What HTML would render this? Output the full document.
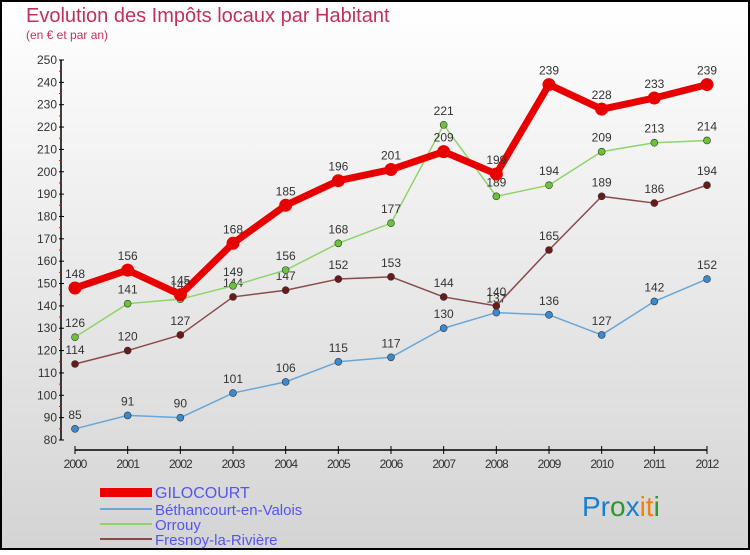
<!DOCTYPE html>
<html><head><meta charset="utf-8"><style>
body{margin:0;}
#c{width:750px;height:550px;position:relative;font-family:"Liberation Sans",sans-serif;}
</style></head><body>
<div id="c">
<svg id="s" width="750" height="550" xmlns="http://www.w3.org/2000/svg">
<defs><linearGradient id="bg" x1="0" y1="0" x2="0" y2="1"><stop offset="0" stop-color="#ffffff"/><stop offset="1" stop-color="#d4d4d4"/></linearGradient></defs>
<rect x="1" y="1" width="748" height="548" fill="url(#bg)" stroke="#000" stroke-width="2"/>
<text x="26" y="22" font-size="20" fill="#c0305a">Evolution des Impôts locaux par Habitant</text>
<text x="26" y="39" font-size="12" fill="#c0305a">(en € et par an)</text>
<g id="axes"></g><g id="plot"></g>
<g>
<rect x="100" y="488" width="52" height="9" fill="#e00"/>
<text x="155" y="498" font-size="16" fill="#5555ee">GILOCOURT</text>
<line x1="100" y1="509" x2="152" y2="509" stroke="#6aa6d6" stroke-width="2"/>
<text x="155" y="515" font-size="15" fill="#5555ee">Béthancourt-en-Valois</text>
<line x1="100" y1="524" x2="152" y2="524" stroke="#8fd46a" stroke-width="2"/>
<text x="155" y="530" font-size="15" fill="#5555ee">Orrouy</text>
<line x1="100" y1="539" x2="152" y2="539" stroke="#8a4a4a" stroke-width="2"/>
<text x="155" y="545" font-size="15" fill="#5555ee">Fresnoy-la-Rivière</text>
</g>
<text x="582" y="516" font-size="28"><tspan fill="#1a7fd0">Pr</tspan><tspan fill="#2a9a2a">o</tspan><tspan fill="#1a7fd0">x</tspan><tspan fill="#f08010">it</tspan><tspan fill="#2a9a2a">i</tspan></text>
</svg></div>
<script>
const years=[2000,2001,2002,2003,2004,2005,2006,2007,2008,2009,2010,2011,2012];
const gilocourt=[148,156,145,168,185,196,201,209,199,239,228,233,239];
const bethancourt=[85,91,90,101,106,115,117,130,137,136,127,142,152];
const orrouy=[126,141,143,149,156,168,177,221,189,194,209,213,214];
const fresnoy=[114,120,127,144,147,152,153,144,140,165,189,186,194];
const yTicks=[80,90,100,110,120,130,140,150,160,170,180,190,200,210,220,230,240,250];
const NS="http://www.w3.org/2000/svg";
const X=i=>75+i*(707-75)/12;
const Y=v=>440-(v-80)*(380/170);
function mk(t,a,p){const e=document.createElementNS(NS,t);for(const k in a)e.setAttribute(k,a[k]);p.appendChild(e);return e;}
const ax=document.getElementById('axes'),pl=document.getElementById('plot');
let l=mk('line',{x1:61,y1:Y(250),x2:61,y2:440,stroke:'#000','stroke-width':1.5},ax);


l=mk('line',{x1:75,y1:450,x2:707,y2:450,stroke:'#000','stroke-width':1.5},ax);


yTicks.forEach(v=>{mk('line',{x1:59,y1:Y(v),x2:64,y2:Y(v),stroke:'#000'},ax);
 if(v<250)mk('line',{x1:59,y1:Y(v+5),x2:62,y2:Y(v+5),stroke:'#e00'},ax);
 const t=mk('text',{x:57,y:Y(v)+4,'font-size':12,fill:'#333','text-anchor':'end'},ax);t.textContent=v;
 
 });
years.forEach((y,i)=>{mk('line',{x1:X(i),y1:446,x2:X(i),y2:454,stroke:'#000'},ax);
 const t=mk('text',{x:X(i),y:468,'font-size':12,fill:'#333','text-anchor':'middle','letter-spacing':'-1'},ax);t.textContent=y;
 
 });
function series(d,name,col,w,r,dot){
 const g=mk('g',{},pl);
 
 
 mk('polyline',{points:d.map((v,i)=>X(i)+','+Y(v)).join(' '),fill:'none',stroke:col,'stroke-width':w,'stroke-linejoin':'round'},g);
 d.forEach((v,i)=>{const c=mk('circle',{cx:X(i),cy:Y(v),r:r,fill:dot,stroke:dot==col?'none':'#333','stroke-width':0.6},g);
  
  
  const t=mk('text',{x:X(i),y:Y(v)-10,'font-size':12,fill:'#333','text-anchor':'middle'},g);t.textContent=v;});
}
series(bethancourt,'bethancourt','#6aa6d6',1.5,3.5,'#3a8ad0');
series(fresnoy,'fresnoy','#8a4a4a',1.5,3.5,'#6a1a1a');
series(orrouy,'orrouy','#8fd46a',1.5,3.5,'#6ac43a');
series(gilocourt,'gilocourt','#e80000',7,6.5,'#e80000');
</script>
</body></html>
